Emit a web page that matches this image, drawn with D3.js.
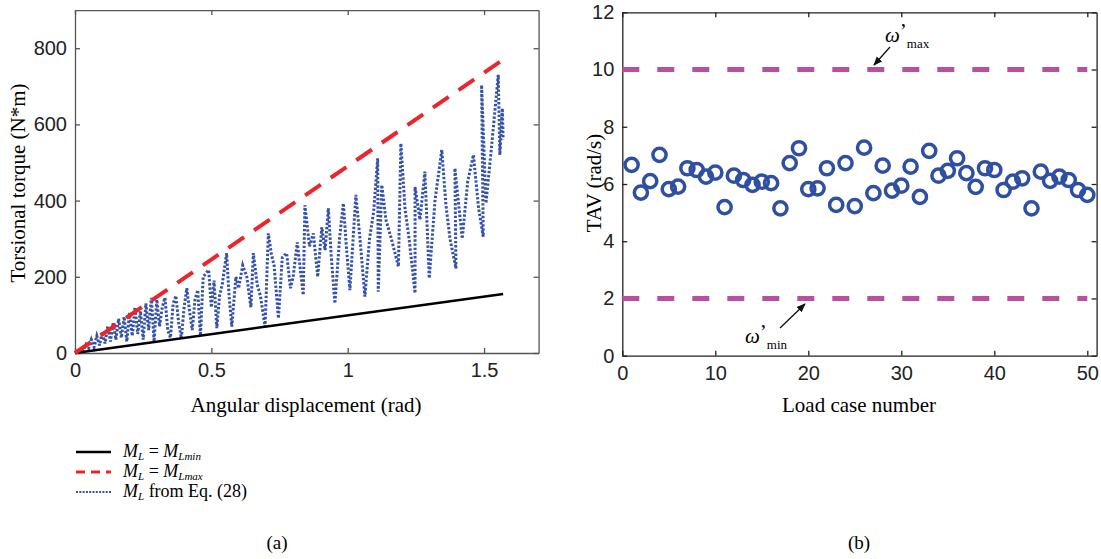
<!DOCTYPE html>
<html>
<head>
<meta charset="utf-8">
<script src="https://cdn.jsdelivr.net/npm/d3@7"></script>
<style>
  body { margin: 0; background: #fff; }
  svg { font-family: "Liberation Serif", "Times New Roman", serif; }
  .tick text { font-size: 20px; fill: #222; }
</style>
</head>
<body>
<div id="chart"></div>
<script>
var width = 1101,
  height = 559;

// panel (a): torque vs angular displacement
var minLine = [[0, 0], [1.57, 155]];
var maxLine = [[0, 0], [1.57, 770]];
var eqX = [0, 0.02, 0.03, 0.04, 0.05, 0.06, 0.07, 0.08, 0.09, 0.10, 0.11, 0.12, 0.13, 0.14, 0.15, 0.16,
  0.17, 0.18, 0.19, 0.20, 0.21, 0.22, 0.23, 0.24, 0.25, 0.26, 0.27, 0.28, 0.29, 0.30, 0.31, 0.32,
  0.33, 0.34, 0.35, 0.36, 0.37, 0.38, 0.39, 0.40, 0.41, 0.42, 0.43, 0.44, 0.45, 0.46, 0.47,
  0.49, 0.50, 0.51, 0.52, 0.53, 0.54, 0.556, 0.565, 0.575, 0.59, 0.60, 0.615, 0.63, 0.645, 0.654,
  0.668, 0.68, 0.697, 0.709, 0.72, 0.73, 0.746, 0.76, 0.776, 0.79, 0.80, 0.815, 0.837, 0.843,
  0.86, 0.874, 0.89, 0.905, 0.917, 0.929, 0.94, 0.953, 0.97, 0.984, 0.995, 1.008, 1.03, 1.045,
  1.063, 1.08, 1.095, 1.11, 1.112, 1.125, 1.14, 1.16, 1.186, 1.195, 1.21, 1.225, 1.247, 1.247,
  1.265, 1.283, 1.299, 1.32, 1.345, 1.36, 1.375, 1.397, 1.393, 1.42, 1.44, 1.461, 1.48, 1.497,
  1.491, 1.507, 1.53, 1.552, 1.558, 1.567, 1.57];
var eqY = [0, 10, 5, 22, 12, 35, 15, 45, 20, 55, 25, 70, 30, 80, 35, 90,
  40, 95, 30, 105, 45, 120, 50, 110, 35, 130, 60, 145, 30, 140, 70, 120,
  145, 60, 40, 130, 150, 80, 38, 120, 170, 110, 60, 140, 165, 45, 200,
  218, 120, 190, 65, 150, 180, 262, 150, 69, 200, 170, 230, 200, 120, 262,
  180, 150, 69, 314, 260, 230, 91, 250, 262, 170, 200, 290, 152, 388,
  280, 314, 200, 330, 270, 380, 250, 130, 300, 393, 280, 165, 415, 300,
  148, 300, 370, 511, 161, 441, 350, 300, 227, 550, 380, 300, 157, 436,
  350, 476, 196, 400, 533, 390, 300, 222, 485, 300, 450, 520, 380, 305,
  703, 393, 560, 730, 520, 642, 560];
var xTicksA = [0, 0.5, 1, 1.5];
var yTicksA = [0, 200, 400, 600, 800];

// panel (b): TAV per load case
var loadCase = d3.range(1, 51);
var tav = [6.67, 5.7, 6.1, 7.02, 5.82, 5.91, 6.55, 6.49, 6.26, 6.4,
  5.19, 6.29, 6.14, 5.97, 6.08, 6.03, 5.15, 6.73, 7.25, 5.82,
  5.85, 6.55, 5.27, 6.73, 5.23, 7.27, 5.68, 6.64, 5.77, 5.94,
  6.61, 5.55, 7.16, 6.29, 6.46, 6.9, 6.38, 5.9, 6.55, 6.49,
  5.79, 6.08, 6.2, 5.15, 6.43, 6.11, 6.26, 6.14, 5.79, 5.62];
var omegaMax = 10, omegaMin = 2;
var xTicksB = [0, 10, 20, 30, 40, 50];
var yTicksB = [0, 2, 4, 6, 8, 10, 12];

var svg = d3.select('#chart')
  .append('svg')
  .attr('width', width)
  .attr('height', height);

var blue = '#3652a6';

// ---------- panel (a) ----------
var xa = d3.scaleLinear().domain([0, 1.7]).range([75, 538.6]);
var ya = d3.scaleLinear().domain([0, 900]).range([353, 10.1]);

var ga = svg.append('g');

ga.append('g')
  .attr('transform', 'translate(0,353)')
  .call(d3.axisBottom(xa).tickValues(xTicksA).tickSizeInner(-5).tickSizeOuter(0).tickPadding(10).tickFormat(d3.format('')));
ga.append('g')
  .attr('transform', 'translate(0,' + ya(900) + ')')
  .call(d3.axisTop(xa).tickValues(xTicksA).tickSizeInner(-5).tickSizeOuter(0).tickFormat(''));
ga.append('g')
  .attr('transform', 'translate(75,0)')
  .call(d3.axisLeft(ya).tickValues(yTicksA).tickSizeInner(-5).tickSizeOuter(0).tickPadding(8));
ga.append('g')
  .attr('transform', 'translate(' + xa(1.7) + ',0)')
  .call(d3.axisRight(ya).tickValues(yTicksA).tickSizeInner(-5).tickSizeOuter(0).tickFormat(''));
ga.selectAll('.domain, .tick line').attr('stroke', '#555').attr('stroke-width', 1.3);

var lineA = d3.line().x(function (d) { return xa(d[0]); }).y(function (d) { return ya(d[1]); });

ga.append('path')
  .datum(d3.zip(eqX, eqY))
  .attr('d', lineA)
  .attr('fill', 'none')
  .attr('stroke', blue)
  .attr('stroke-width', 3)
  .attr('stroke-dasharray', '2.4,1.8');

ga.append('path')
  .datum(minLine)
  .attr('d', lineA)
  .attr('fill', 'none')
  .attr('stroke', '#000')
  .attr('stroke-width', 2.5);

ga.append('path')
  .datum(maxLine)
  .attr('d', lineA)
  .attr('fill', 'none')
  .attr('stroke', '#e8262b')
  .attr('stroke-width', 4)
  .attr('stroke-dasharray', '19,12');

ga.append('text')
  .attr('x', 306).attr('y', 412)
  .attr('text-anchor', 'middle')
  .style('font-size', '21px')
  .text('Angular displacement (rad)');

ga.append('text')
  .attr('transform', 'translate(25,183) rotate(-90)')
  .attr('text-anchor', 'middle')
  .style('font-size', '21px')
  .text('Torsional torque (N*m)');

// legend
var legend = [
  { sub: 'Lmin', color: '#000', dash: null, w: 2.5, rest: null },
  { sub: 'Lmax', color: '#e8262b', dash: '9,6', w: 3, rest: null },
  { sub: null, color: blue, dash: '2,1.3', w: 2.2, rest: ' from Eq. (28)' }
];
var lg = ga.append('g').attr('transform', 'translate(76,452)');
legend.forEach(function (d, i) {
  var row = lg.append('g').attr('transform', 'translate(0,' + i * 20 + ')');
  row.append('line')
    .attr('x1', 0).attr('x2', 35)
    .attr('stroke', d.color)
    .attr('stroke-width', d.w)
    .attr('stroke-dasharray', d.dash);
  var t = row.append('text').attr('x', 47).attr('y', 5).style('font-size', '18px');
  t.append('tspan').style('font-style', 'italic').text('M');
  t.append('tspan').style('font-style', 'italic').style('font-size', '11px').attr('dy', 3).text('L');
  if (d.sub) {
    t.append('tspan').attr('dy', -3).text(' = ');
    t.append('tspan').style('font-style', 'italic').text('M');
    t.append('tspan').style('font-style', 'italic').style('font-size', '11px').attr('dy', 3).text(d.sub);
  } else {
    t.append('tspan').attr('dy', -3).text(d.rest);
  }
});

svg.append('text')
  .attr('x', 277).attr('y', 549)
  .attr('text-anchor', 'middle')
  .style('font-size', '19px')
  .text('(a)');

// ---------- panel (b) ----------
var xb = d3.scaleLinear().domain([0, 51]).range([622.3, 1096.6]);
var yb = d3.scaleLinear().domain([0, 12]).range([355.7, 12.3]);

var gb = svg.append('g');

gb.append('g')
  .attr('transform', 'translate(0,' + yb(0) + ')')
  .call(d3.axisBottom(xb).tickValues(xTicksB).tickSizeInner(-5).tickSizeOuter(0).tickPadding(10));
gb.append('g')
  .attr('transform', 'translate(0,' + yb(12) + ')')
  .call(d3.axisTop(xb).tickValues(xTicksB).tickSizeInner(-5).tickSizeOuter(0).tickFormat(''));
gb.append('g')
  .attr('transform', 'translate(' + xb(0) + ',0)')
  .call(d3.axisLeft(yb).tickValues(yTicksB).tickSizeInner(-5).tickSizeOuter(0).tickPadding(8));
gb.append('g')
  .attr('transform', 'translate(' + xb(51) + ',0)')
  .call(d3.axisRight(yb).tickValues(yTicksB).tickSizeInner(-5).tickSizeOuter(0).tickFormat(''));
gb.selectAll('.domain, .tick line').attr('stroke', '#222').attr('stroke-width', 1.3);

gb.selectAll('.limit')
  .data([omegaMax, omegaMin])
  .enter()
  .append('line')
  .attr('class', 'limit')
  .attr('x1', xb(0)).attr('x2', xb(50))
  .attr('y1', function (d) { return yb(d); })
  .attr('y2', function (d) { return yb(d); })
  .attr('stroke', '#b9509f')
  .attr('stroke-width', 5)
  .attr('stroke-dasharray', '17,18');

gb.selectAll('.pt')
  .data(loadCase)
  .enter()
  .append('circle')
  .attr('class', 'pt')
  .attr('cx', function (d) { return xb(d); })
  .attr('cy', function (d, i) { return yb(tav[i]); })
  .attr('r', 6.6)
  .attr('fill', 'none')
  .attr('stroke', '#2f4fa3')
  .attr('stroke-width', 3.5);

svg.append('defs').append('marker')
  .attr('id', 'arrow')
  .attr('viewBox', '0 0 10 10')
  .attr('refX', 9).attr('refY', 5)
  .attr('markerWidth', 7).attr('markerHeight', 7)
  .attr('orient', 'auto')
  .append('path')
  .attr('d', 'M0,1 L10,5 L0,9 Z')
  .attr('fill', '#111');

// annotations
gb.append('line')
  .attr('x1', 890).attr('y1', 47)
  .attr('x2', 874).attr('y2', 65)
  .attr('stroke', '#111').attr('stroke-width', 1.3)
  .attr('marker-end', 'url(#arrow)');
var tmax = gb.append('text').attr('x', 885).attr('y', 42).style('font-size', '21px');
tmax.append('tspan').style('font-style', 'italic').text('ω');
tmax.append('tspan').attr('dy', -4).text('’');
tmax.append('tspan').attr('dy', 10).style('font-size', '13px').text('max');

gb.append('line')
  .attr('x1', 780).attr('y1', 328)
  .attr('x2', 805).attr('y2', 304)
  .attr('stroke', '#111').attr('stroke-width', 1.3)
  .attr('marker-end', 'url(#arrow)');
var tmin = gb.append('text').attr('x', 745).attr('y', 343).style('font-size', '21px');
tmin.append('tspan').style('font-style', 'italic').text('ω');
tmin.append('tspan').attr('dy', -4).text('’');
tmin.append('tspan').attr('dy', 10).style('font-size', '13px').text('min');

gb.append('text')
  .attr('x', 859).attr('y', 412)
  .attr('text-anchor', 'middle')
  .style('font-size', '21px')
  .text('Load case number');

gb.append('text')
  .attr('transform', 'translate(601,183) rotate(-90)')
  .attr('text-anchor', 'middle')
  .style('font-size', '21px')
  .text('TAV (rad/s)');

svg.append('text')
  .attr('x', 859).attr('y', 549)
  .attr('text-anchor', 'middle')
  .style('font-size', '19px')
  .text('(b)');
</script>
</body>
</html>
